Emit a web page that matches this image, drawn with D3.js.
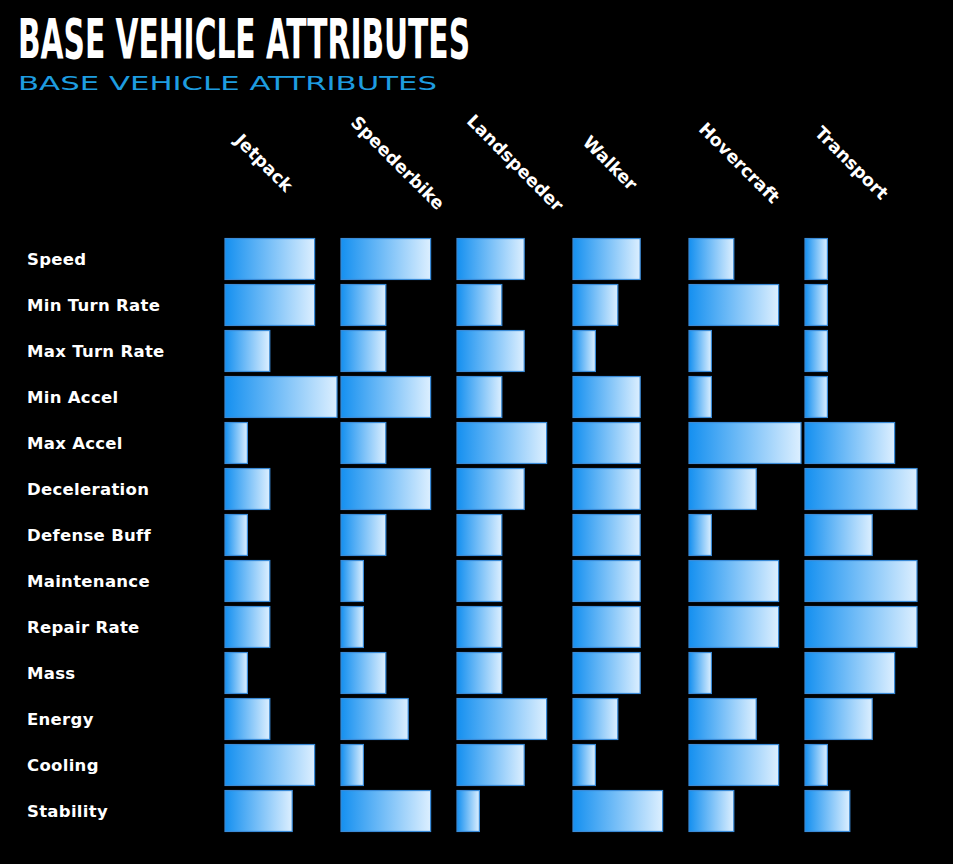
<!DOCTYPE html>
<html><head><meta charset="utf-8">
<script src="https://cdn.jsdelivr.net/npm/d3@7"></script>
<style>html,body{margin:0;padding:0;background:#000;}svg{display:block;}</style>
</head><body>
<script>
const vehicles = ["Jetpack","Speederbike","Landspeeder","Walker","Hovercraft","Transport"];
const attributes = ["Speed","Min Turn Rate","Max Turn Rate","Min Accel","Max Accel","Deceleration","Defense Buff","Maintenance","Repair Rate","Mass","Energy","Cooling","Stability"];
const jetpack     = [4,4,2,5,1,2,1,2,2,1,2,4,3];
const speederbike = [4,2,2,4,2,4,2,1,1,2,3,1,4];
const landspeeder = [3,2,3,2,4,3,2,2,2,2,4,3,1];
const walker      = [3,2,1,3,3,3,3,3,3,3,2,1,4];
const hovercraft  = [2,4,1,1,5,3,1,4,4,1,3,4,2];
const transport   = [1,1,1,1,4,5,3,5,5,4,3,1,2];
const seriesList = [jetpack, speederbike, landspeeder, walker, hovercraft, transport];
const maxValue = 5;
const title = "BASE VEHICLE ATTRIBUTES";
const subtitle = "BASE VEHICLE ATTRIBUTES";

const W = 953, H = 864;
const svg = d3.select("body").append("svg").attr("width", W).attr("height", H);
svg.append("rect").attr("width", W).attr("height", H).attr("fill", "#000");

const defs = svg.append("defs");
const grad = defs.append("linearGradient").attr("id","barGrad").attr("x1","0%").attr("x2","100%").attr("y1","0%").attr("y2","0%");
grad.append("stop").attr("offset","0%").attr("stop-color","#1590f0");
grad.append("stop").attr("offset","100%").attr("stop-color","#dcefff");

const x = d3.scaleBand().domain(vehicles).range([225, 921]).padding(0);
const v = d3.scaleLinear().domain([0, maxValue]).range([0, 112]);
const y = d3.scaleBand().domain(attributes).range([236, 834]).paddingInner(0.11).paddingOuter(0.055);

// title
svg.append("text").attr("x", 18).attr("y", 58).text(title)
  .attr("fill", "#fff").attr("font-family", "'Liberation Sans Narrow','DejaVu Sans Condensed','Roboto Condensed',sans-serif")
  .attr("font-weight", "bold").attr("font-size", 55)
  .attr("textLength", 452).attr("lengthAdjust", "spacingAndGlyphs");
svg.append("text").attr("x", 18).attr("y", 90).text(subtitle)
  .attr("fill", "#1e9de0").attr("font-family", "'DejaVu Sans',sans-serif")
  .attr("font-weight", "normal").attr("font-size", 19)
  .attr("textLength", 419).attr("lengthAdjust", "spacingAndGlyphs");

// row labels
svg.append("g").selectAll("text").data(attributes).join("text")
  .attr("x", 27).attr("y", d => y(d) + y.bandwidth()/2)
  .attr("dominant-baseline", "central")
  .attr("fill", "#fff").attr("font-family", "'DejaVu Sans',sans-serif")
  .attr("font-weight", "bold").attr("font-size", 16.5).attr("letter-spacing", 0.3)
  .text(d => d);

// column labels
const colG = svg.append("g");
vehicles.forEach(vn => {
  const t = colG.append("text").text(vn)
    .attr("fill", "#fff").attr("font-family", "'DejaVu Sans',sans-serif")
    .attr("font-weight", "bold").attr("font-size", 17.5)
    .attr("dominant-baseline", "central");
  const L = t.node().getComputedTextLength();
  const d = L * Math.SQRT1_2;
  const sx = x(vn) + 13, sy = 163 - d/2;
  t.attr("transform", `translate(${sx},${sy}) rotate(45)`);
});

// bars
vehicles.forEach((vn, i) => {
  svg.append("g").selectAll("rect").data(seriesList[i]).join("rect")
    .attr("x", x(vn))
    .attr("y", (d, j) => y(attributes[j]))
    .attr("width", d => v(d))
    .attr("height", y.bandwidth())
    .attr("fill", "url(#barGrad)")
    .attr("stroke", "#3a8ad6").attr("stroke-width", 1.2);
});
</script>
</body></html>
